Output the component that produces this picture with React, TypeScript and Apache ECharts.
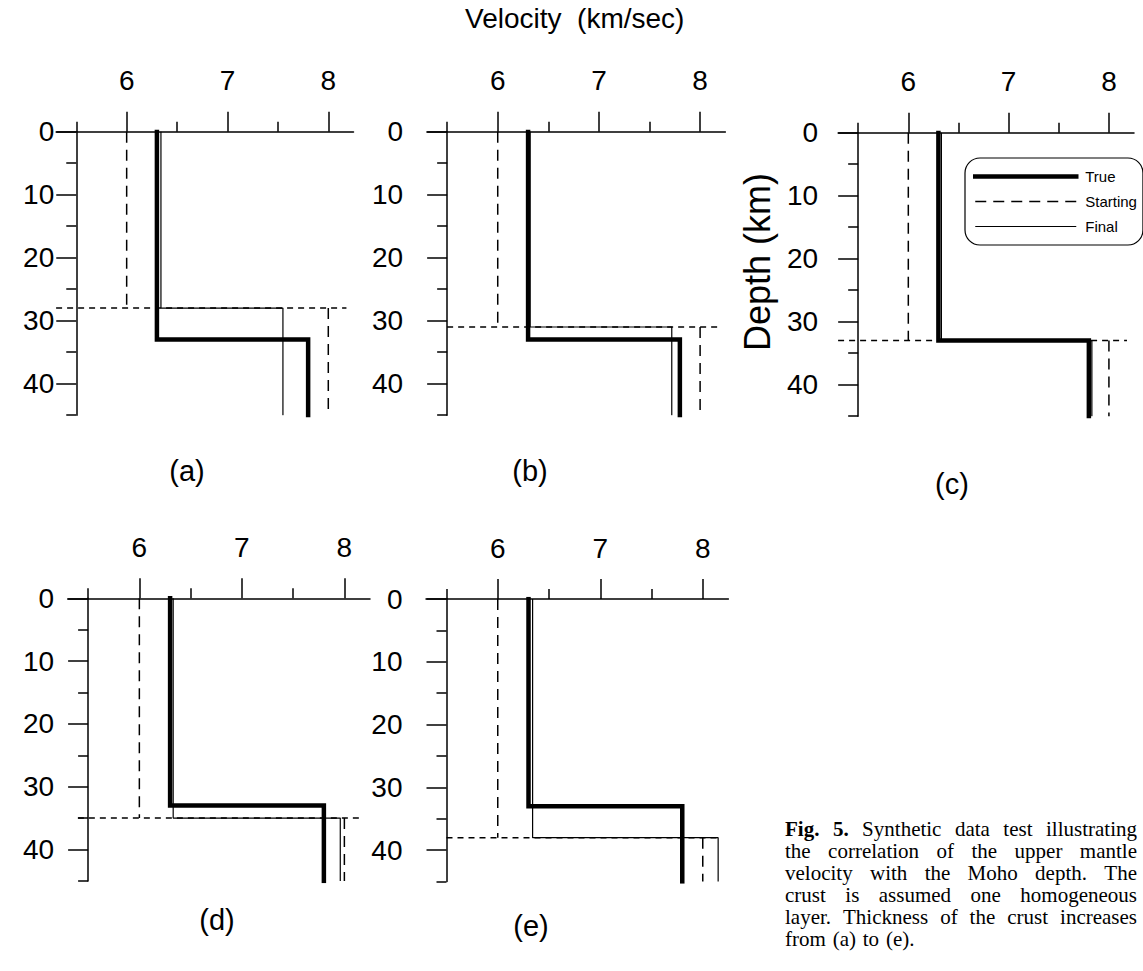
import React, { useEffect, useRef } from 'react';
import * as echarts from 'echarts';

// ---- data ----
const panelLabels = ['(a)', '(b)', '(c)', '(d)', '(e)'];
const trueCrustVel = [6.3, 6.3, 6.3, 6.3, 6.3];
const trueMohoDepth = [33, 33, 33, 33, 33];
const trueMantleVel = [7.8, 7.8, 7.8, 7.8, 7.8];
const startCrustVel = [6.0, 6.0, 6.0, 6.0, 6.0];
const startMohoDepth = [28, 31, 33, 35, 38];
const startMantleVel = [8.0, 8.0, 8.0, 8.0, 8.0];
const finalCrustVel = [6.34, 6.32, 6.33, 6.33, 6.34];
const finalMohoDepth = [28, 31, 33, 35, 38];
const finalMantleVel = [7.55, 7.72, 7.83, 7.96, 8.15];
const mohoMarkFrom = [5.3, 5.5, 5.3, 5.4, 5.5];
const mohoMarkTo = [8.18, 8.2, 8.18, 8.17, 8.15];
const depthTop = 0;
const depthBottom = 45;
const velMajorTicks = [6, 7, 8];
const velMinorTicks = [5.5, 6.5, 7.5];
const depthMajorTicks = [0, 10, 20, 30, 40];
const depthMinorTicks = [5, 15, 25, 35, 45];
const velMin = 5.3;
const velMax = 8.25;
const velAxisAt = 5.5;
const legendNames = ['True', 'Starting', 'Final'];
const xTitle = 'Velocity  (km/sec)';
const yTitle = 'Depth (km)';
const captionBold = 'Fig. 5.';
const captionLines = [
  'Fig. 5. Synthetic data test illustrating',
  'the correlation of the upper mantle',
  'velocity with the Moho depth. The',
  'crust is assumed one homogeneous',
  'layer. Thickness of the crust increases',
  'from (a) to (e).',
];

// ---- layout & style (pixels) ----
const layouts = [
  { left: 56.1, top: 131.7, width: 297.4, height: 283.5, yLabelMargin: 22, labelX: 187, labelY: 471 },
  { left: 426.9, top: 131.7, width: 298.5, height: 283.5, yLabelMargin: 44, labelX: 530, labelY: 471 },
  { left: 838.1, top: 132.7, width: 295.9, height: 283.5, yLabelMargin: 40, labelX: 952, labelY: 484 },
  { left: 67.6, top: 598.3, width: 302.4, height: 282.6, yLabelMargin: 34, labelX: 217, labelY: 920 },
  { left: 426, top: 599, width: 302.4, height: 282.6, yLabelMargin: 44, labelX: 531, labelY: 926 },
];
const lineWidths: Record<string, number> = { True: 4.5, Starting: 1.5, Final: 1.2 };
const caption = { x: 785, y: 829, width: 352, lineHeight: 22, fontSize: 21 };

const FONT = 'Liberation Sans, Arial, Helvetica, sans-serif';
const SERIF = 'Liberation Serif';
const BLACK = '#000';

function measure(text: string, bold: boolean, size: number) {
  const c = document.createElement('canvas').getContext('2d')!;
  c.font = `${bold ? 'bold ' : ''}${size}px "${SERIF}"`;
  return c.measureText(text).width;
}

function captionGraphics() {
  const out: any[] = [];
  const boldWords = captionBold.split(' ');
  captionLines.forEach((line, li) => {
    const words = line.split(' ');
    const bolds = words.map((w, wi) => li === 0 && wi < boldWords.length && w === boldWords[wi]);
    const widths = words.map((w, wi) => measure(w, bolds[wi], caption.fontSize));
    const total = widths.reduce((a, b) => a + b, 0);
    const isLast = li === captionLines.length - 1;
    const gap = isLast || words.length < 2
      ? measure(' ', false, caption.fontSize) * 1.3
      : (caption.width - total) / (words.length - 1);
    let x = caption.x;
    words.forEach((w, wi) => {
      out.push({
        type: 'text', x, y: caption.y + li * caption.lineHeight, silent: true,
        style: {
          text: w, fontSize: caption.fontSize, fontFamily: SERIF, fontWeight: bolds[wi] ? 'bold' : 'normal',
          fill: BLACK, align: 'left', verticalAlign: 'middle',
        },
      });
      x += widths[wi] + gap;
    });
  });
  return out;
}

function buildOption() {
  const grid: any[] = [];
  const xAxis: any[] = [];
  const yAxis: any[] = [];
  const series: any[] = [];
  const graphic: any[] = [];

  layouts.forEach((L, i) => {
    grid.push({ left: L.left, top: L.top, width: L.width, height: L.height, containLabel: false });
    const pxPerVel = L.width / (velMax - velMin);
    const yOffset = -(velAxisAt - velMin) * pxPerVel;

    xAxis.push({
      type: 'value', gridIndex: i, position: 'top', min: velMin, max: velMax,
      axisLine: { show: true, onZero: false, lineStyle: { color: BLACK, width: 1.5 } },
      axisTick: { show: true, inside: false, length: 20, customValues: velMajorTicks, lineStyle: { color: BLACK, width: 1.5 } },
      axisLabel: { show: true, customValues: velMajorTicks, margin: 37, fontSize: 28, color: BLACK, fontFamily: FONT },
      splitLine: { show: false },
    });
    xAxis.push({
      type: 'value', gridIndex: i, position: 'top', min: velMin, max: velMax,
      axisLine: { show: false, onZero: false },
      axisTick: { show: true, inside: false, length: 10, customValues: velMinorTicks, lineStyle: { color: BLACK, width: 1.5 } },
      axisLabel: { show: false },
      splitLine: { show: false },
    });
    yAxis.push({
      type: 'value', gridIndex: i, position: 'left', inverse: true, min: depthTop, max: depthBottom,
      offset: yOffset,
      axisLine: { show: true, onZero: false, lineStyle: { color: BLACK, width: 1.5 } },
      axisTick: { show: true, inside: false, length: 20, customValues: depthMajorTicks, lineStyle: { color: BLACK, width: 1.5 } },
      axisLabel: { show: true, customValues: depthMajorTicks, margin: L.yLabelMargin, fontSize: 28, color: BLACK, fontFamily: FONT },
      splitLine: { show: false },
    });
    yAxis.push({
      type: 'value', gridIndex: i, position: 'left', inverse: true, min: depthTop, max: depthBottom,
      offset: yOffset,
      axisLine: { show: false, onZero: false },
      axisTick: { show: true, inside: false, length: 10, customValues: depthMinorTicks, lineStyle: { color: BLACK, width: 1.5 } },
      axisLabel: { show: false },
      splitLine: { show: false },
    });

    const base = {
      type: 'line', xAxisIndex: 2 * i, yAxisIndex: 2 * i, symbol: 'none', showSymbol: false,
      silent: true, animation: false, z: 3, itemStyle: { color: BLACK },
    };

    series.push({
      ...base, name: 'Starting',
      data: [[startCrustVel[i], depthTop], [startCrustVel[i], startMohoDepth[i]]],
      lineStyle: { color: BLACK, width: lineWidths.Starting, type: [11, 7] },
    });
    series.push({
      ...base, name: 'Starting',
      data: [[mohoMarkFrom[i], startMohoDepth[i]], [mohoMarkTo[i], startMohoDepth[i]]],
      lineStyle: { color: BLACK, width: lineWidths.Starting, type: [6, 5] },
    });
    series.push({
      ...base, name: 'Starting',
      data: [[startMantleVel[i], startMohoDepth[i]], [startMantleVel[i], depthBottom]],
      lineStyle: { color: BLACK, width: lineWidths.Starting, type: [11, 7] },
    });
    series.push({
      ...base, name: 'Final', z: 4,
      data: [
        [finalCrustVel[i], depthTop], [finalCrustVel[i], finalMohoDepth[i]],
        [finalMantleVel[i], finalMohoDepth[i]], [finalMantleVel[i], depthBottom],
      ],
      lineStyle: { color: BLACK, width: lineWidths.Final, type: 'solid' },
    });
    series.push({
      ...base, name: 'True', z: 5,
      data: [
        [trueCrustVel[i], depthTop], [trueCrustVel[i], trueMohoDepth[i]],
        [trueMantleVel[i], trueMohoDepth[i]], [trueMantleVel[i], depthBottom],
      ],
      lineStyle: { color: BLACK, width: lineWidths.True, type: 'solid', cap: 'square', join: 'miter' },
    });

    graphic.push({
      type: 'text', x: L.labelX, y: L.labelY, silent: true,
      style: { text: panelLabels[i], fontSize: 29, fontFamily: FONT, fill: BLACK, align: 'center', verticalAlign: 'middle' },
    });
  });

  graphic.push({
    type: 'text', x: 757, y: 262, rotation: Math.PI / 2, silent: true,
    style: { text: yTitle, fontSize: 36, fontFamily: FONT, fill: BLACK, align: 'center', verticalAlign: 'middle' },
  });

  graphic.push(...captionGraphics());

  return {
    animation: false,
    backgroundColor: '#fff',
    title: {
      text: xTitle, left: 465, top: 4, padding: 0,
      textStyle: { fontSize: 28, fontWeight: 'normal', color: BLACK, fontFamily: FONT },
    },
    legend: {
      data: legendNames.map((n) => ({ name: n, lineStyle: { width: lineWidths[n], color: BLACK } })),
      orient: 'vertical', left: 965, top: 158,
      padding: [11, 6, 11, 8],
      itemWidth: 101, itemHeight: 14, itemGap: 10,
      borderColor: BLACK, borderWidth: 1.2, borderRadius: 15,
      backgroundColor: '#fff',
      selectedMode: false,
      itemStyle: { opacity: 0, color: 'rgba(0,0,0,0)', borderWidth: 0 },
      textStyle: { fontSize: 15, color: BLACK, fontFamily: FONT, padding: [0, 0, 0, 4] },
    },
    grid, xAxis, yAxis, series, graphic,
  };
}

export default function App() {
  const ref = useRef<HTMLDivElement>(null);
  useEffect(() => {
    if (!ref.current) return;
    const chart = echarts.init(ref.current, undefined, { renderer: 'svg' });
    chart.setOption(buildOption() as any);
    return () => chart.dispose();
  }, []);
  return (
    <div
      ref={ref}
      style={{ position: 'absolute', left: 0, top: 0, width: 1143, height: 971, background: '#fff' }}
    />
  );
}
